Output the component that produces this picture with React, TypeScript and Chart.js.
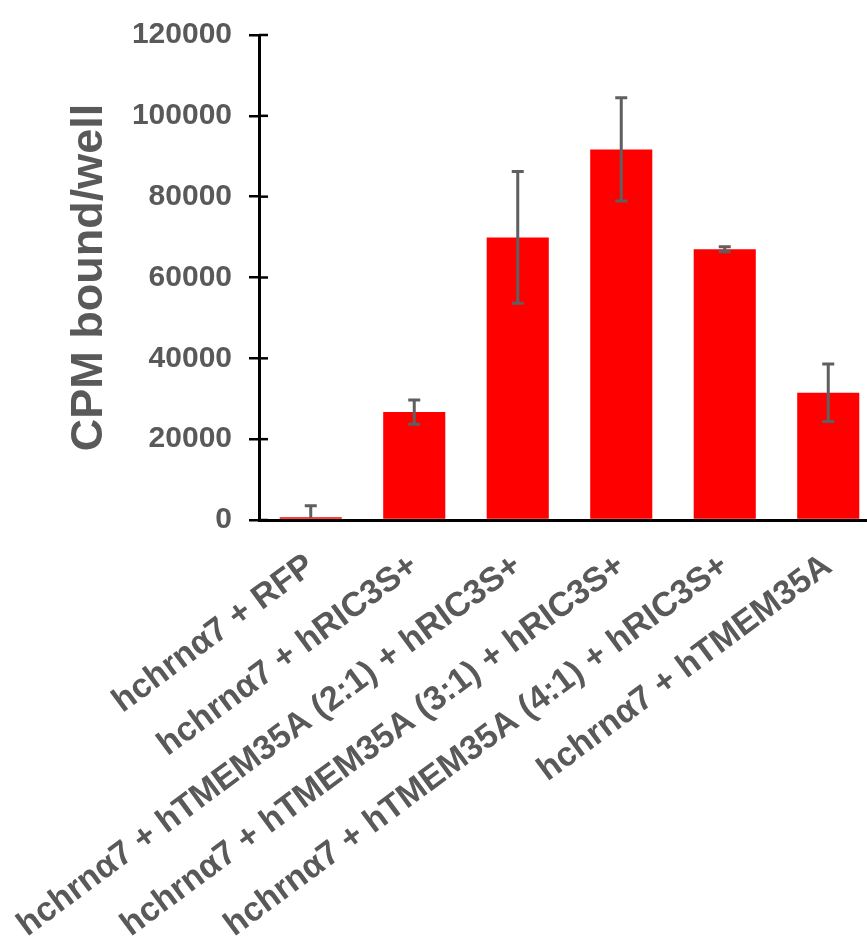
import React, { useEffect, useRef } from "react";
import { Chart, registerables } from "chart.js";

Chart.register(...registerables);

// ---- data ----
const categories: string[] = [
  "hchrnα7 + RFP",
  "hchrnα7 + hRIC3S+",
  "hchrnα7 + hTMEM35A (2:1) + hRIC3S+",
  "hchrnα7 + hTMEM35A (3:1) + hRIC3S+",
  "hchrnα7 + hTMEM35A (4:1) + hRIC3S+",
  "hchrnα7 + hTMEM35A",
];
const meanValues: number[] = [700, 26700, 69900, 91700, 67000, 31500];
const errorValues: number[] = [2800, 3000, 16300, 12800, 600, 7100];
const yTickValues: number[] = [0, 20000, 40000, 60000, 80000, 100000, 120000];
const yAxisTitle = "CPM bound/well";

const TEXT_GRAY = "#595959";
const FONT = "'Liberation Sans', Arial, sans-serif";

const CANVAS_W = 889;
const CANVAS_H = 941;

const errorBarPlugin = {
  id: "errorBars",
  afterDatasetsDraw(chart: any) {
    const { ctx, chartArea } = chart;
    const y = chart.scales.y;
    const meta = chart.getDatasetMeta(0);
    ctx.save();
    ctx.strokeStyle = "#5f5f5f";
    ctx.lineWidth = 3;
    ctx.lineCap = "butt";
    const cap = 6;
    meta.data.forEach((bar: any, i: number) => {
      const v = meanValues[i];
      const e = errorValues[i];
      const x = bar.x;
      const yTop = y.getPixelForValue(v + e);
      const lowVal = v - e;
      const yBot = y.getPixelForValue(Math.max(0, lowVal));
      ctx.beginPath();
      ctx.moveTo(x, yTop);
      ctx.lineTo(x, Math.min(yBot, chartArea.bottom - 2));
      ctx.moveTo(x - cap, yTop);
      ctx.lineTo(x + cap, yTop);
      if (lowVal > 0) {
        ctx.moveTo(x - cap, yBot);
        ctx.lineTo(x + cap, yBot);
      }
      ctx.stroke();
    });
    ctx.restore();
  },
};

const innerTickPlugin = {
  id: "innerTicks",
  afterDraw(chart: any) {
    const { ctx } = chart;
    const y = chart.scales.y;
    const x0 = chart.chartArea.left;
    ctx.save();
    ctx.strokeStyle = "#000";
    ctx.lineWidth = 2.5;
    y.ticks.forEach((t: any) => {
      const py = y.getPixelForValue(t.value);
      ctx.beginPath();
      ctx.moveTo(x0, py);
      ctx.lineTo(x0 + 9, py);
      ctx.stroke();
    });
    ctx.restore();
  },
};

export default function App() {
  const canvasRef = useRef<HTMLCanvasElement | null>(null);

  useEffect(() => {
    const canvas = canvasRef.current;
    if (!canvas) return;
    const chart = new Chart(canvas, {
      type: "bar",
      data: {
        labels: categories,
        datasets: [
          {
            data: meanValues,
            backgroundColor: "#ff0000",
            borderWidth: 0,
            barPercentage: 0.6,
            categoryPercentage: 1,
          },
        ],
      },
      options: {
        responsive: false,
        animation: false,
        devicePixelRatio: 1,
        layout: { padding: { left: 55, top: 32, right: 9, bottom: 0 } },
        plugins: {
          legend: { display: false },
          tooltip: { enabled: false },
          title: { display: false },
        },
        scales: {
          x: {
            type: "category",
            grid: { display: false, drawTicks: false },
            border: { display: true, color: "#000", width: 3 },
            ticks: {
              autoSkip: false,
              minRotation: 36.5,
              maxRotation: 36.5,
              padding: 26,
              color: TEXT_GRAY,
              font: { family: FONT, size: 34, weight: "bold" },
            },
            afterFit: (scale: any) => {
              scale.height = CANVAS_H - 520;
            },
          },
          y: {
            type: "linear",
            min: 0,
            max: 120000,
            afterBuildTicks: (scale: any) => {
              scale.ticks = yTickValues.map((v) => ({ value: v }));
            },
            grid: {
              display: true,
              drawOnChartArea: false,
              drawTicks: true,
              tickLength: 10,
              color: "#000",
              lineWidth: 2.5,
            },
            border: { display: true, color: "#000", width: 3 },
            ticks: {
              padding: 17,
              color: TEXT_GRAY,
              font: { family: FONT, size: 30, weight: "bold" },
              callback: (v: any) => String(v),
            },
            title: {
              display: true,
              text: yAxisTitle,
              color: TEXT_GRAY,
              font: { family: FONT, size: 45, weight: "bold" },
              padding: { top: 8, bottom: 0 },
            },
            afterFit: (scale: any) => {
              scale.width = 259 - 55;
            },
          },
        },
      },
      plugins: [errorBarPlugin, innerTickPlugin],
    });
    return () => chart.destroy();
  }, []);

  return (
    <div
      style={{
        position: "absolute",
        left: 0,
        top: 0,
        width: 867,
        height: 941,
        overflow: "hidden",
        background: "#fff",
      }}
    >
      <canvas
        ref={canvasRef}
        width={CANVAS_W}
        height={CANVAS_H}
        style={{ display: "block", width: CANVAS_W, height: CANVAS_H }}
      />
    </div>
  );
}
